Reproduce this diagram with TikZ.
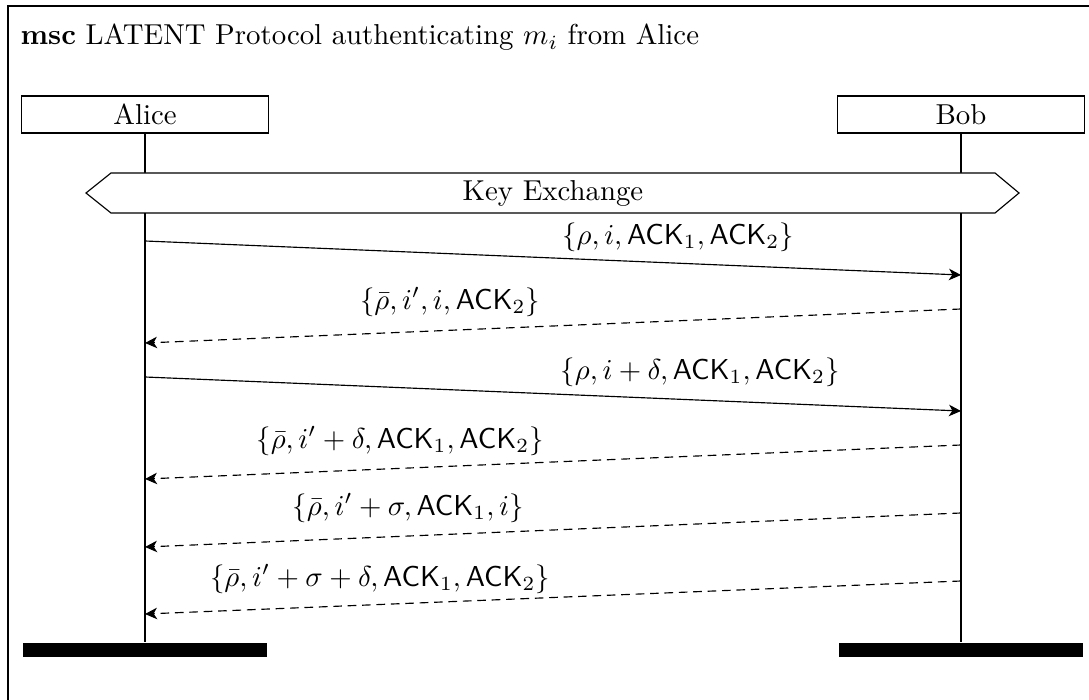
\documentclass[tikz,border=0pt]{standalone}
\usetikzlibrary{arrows.meta}
\begin{document}
\begin{tikzpicture}[x=0.347pt,y=-0.347pt,
  inst/.style={draw,line width=0.4pt,minimum width=85.7pt,minimum height=12.8pt,inner sep=0pt},
  endbar/.style={fill=black,draw=none,minimum width=85pt,minimum height=4.9pt,inner sep=0pt},
  life/.style={line width=0.4pt},
  msg/.style={line width=0.4pt,-{Stealth[length=4.2pt,width=4pt,inset=1.2pt]}},
  reply/.style={msg,dash pattern=on 3pt off 2pt},
  lbl/.style={inner sep=0pt}]
\useasboundingbox (0,0) rectangle (1089,700);
% frame
\draw[line width=0.5pt] (8,700) -- (8,6) -- (1089,6);
\node[anchor=base west,inner sep=0pt] (title) at (20,45) {\textbf{msc} LATENT Protocol authenticating $m_i$ from Alice};
% instances
\node[inst] (alice) at (145,114.5) {Alice};
\node[inst] (bob) at (961,114.5) {Bob};
\node[endbar] (aliceend) at (145,650) {};
\node[endbar] (bobend) at (961,650) {};
\draw[life] (alice.south) -- (aliceend.north);
\draw[life] (bob.south) -- (bobend.north);
% key exchange
\draw[line width=0.4pt,fill=white] (86,193) -- (111,173) -- (995,173) -- (1019,193) -- (995,213) -- (111,213) -- cycle;
\node (kx) at (553,193) {Key Exchange};
% message points
\coordinate (a1) at (145,241); \coordinate (b1) at (961,275);
\coordinate (b2) at (961,309); \coordinate (a2) at (145,343);
\coordinate (a3) at (145,377); \coordinate (b3) at (961,411);
\coordinate (b4) at (961,445); \coordinate (a4) at (145,479);
\coordinate (b5) at (961,513); \coordinate (a5) at (145,547);
\coordinate (b6) at (961,581); \coordinate (a6) at (145,614);
\draw[msg] (a1) -- (b1);
\draw[reply] (b2) -- (a2);
\draw[msg] (a3) -- (b3);
\draw[reply] (b4) -- (a4);
\draw[reply] (b5) -- (a5);
\draw[reply] (b6) -- (a6);
% labels
\node[lbl] (l1) at (678,237) {$\{\rho, i, \mathsf{ACK}_1, \mathsf{ACK}_2\}$};
\node[lbl] (l2) at (450,302) {$\{\bar{\rho}, i', i, \mathsf{ACK}_2\}$};
\node[lbl] (l3) at (700,372) {$\{\rho, i+\delta, \mathsf{ACK}_1, \mathsf{ACK}_2\}$};
\node[lbl] (l4) at (400,441) {$\{\bar{\rho}, i'+\delta, \mathsf{ACK}_1, \mathsf{ACK}_2\}$};
\node[lbl] (l5) at (408,508) {$\{\bar{\rho}, i'+\sigma, \mathsf{ACK}_1, i\}$};
\node[lbl] (l6) at (380,579) {$\{\bar{\rho}, i'+\sigma+\delta, \mathsf{ACK}_1, \mathsf{ACK}_2\}$};
\end{tikzpicture}
\end{document}
